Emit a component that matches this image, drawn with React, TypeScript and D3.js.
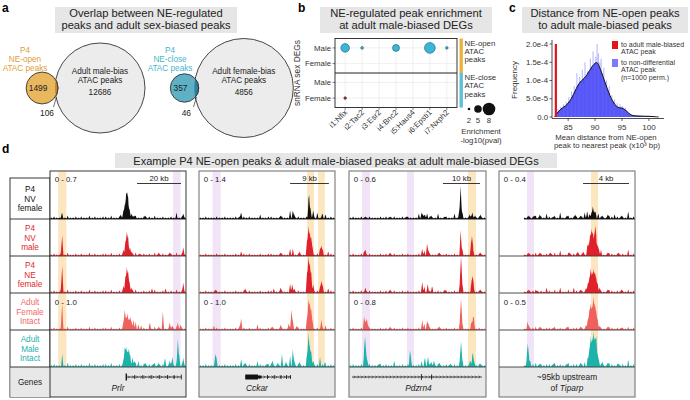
import React from "react";
import * as d3 from "d3";

const FONT = "'Liberation Sans', Arial, Helvetica, sans-serif";

// ---------------- Panel a data ----------------
const vennSmallCounts = [1499, 357];
const vennOverlapCounts = [106, 46];
const vennBigCounts = [12686, 4856];
const vennSmallLabels = [["P4", "NE-open", "ATAC peaks"], ["P4", "NE-close", "ATAC peaks"]];
const vennBigLabels = [["Adult male-bias", "ATAC peaks"], ["Adult female-bias", "ATAC peaks"]];

// ---------------- Panel b data ----------------
const enrichGenes = ["i1:Nfix", "i2:Tac2", "i3:Esr2", "i4:Bnc2", "i5:Haus4", "i6:Epsti1", "i7:Nxph2"];
const enrichRows = ["Male", "Female"];
const enrichFacets = [["NE-open", "ATAC", "peaks"], ["NE-close", "ATAC", "peaks"]];
const enrichFacetIdx = [0, 0, 0, 0, 0, 1];
const enrichPointGene = ["i1:Nfix", "i2:Tac2", "i4:Bnc2", "i6:Epsti1", "i7:Nxph2", "i1:Nfix"];
const enrichPointRow = ["Male", "Male", "Male", "Male", "Male", "Female"];
const enrichPointVal = [5.6, 2.1, 4.6, 6.9, 2.0, 2.0];
const enrichLegendVals = [2, 5, 8];

// ---------------- Panel c data ----------------
const histStart = 82.5;
const histWidth = 0.25;
const histValues = [
  8, 15, 22, 12, 28, 20, 35, 24, 42, 30, 55, 38, 70, 48, 85, 62, 120, 75, 110, 95,
  130, 90, 150, 105, 125, 115, 160, 128, 180, 140, 165, 200, 175, 150, 160, 120, 135, 95, 100, 75,
  85, 55, 60, 42, 48, 30, 38, 22, 35, 28, 30, 18, 25, 12, 15, 8, 6, 4, 3, 2, 2, 1,
]; // x1e-6
const densX = [82.5, 83, 83.5, 84, 84.5, 85, 85.5, 86, 86.5, 87, 87.5, 88, 88.5, 89, 89.5, 90, 90.3, 90.6, 91, 91.5, 92, 92.5, 93, 93.5, 94, 94.5, 95, 95.5, 96, 96.5, 97, 97.5, 98, 99, 100, 101, 101.8];
const densY = [0, 12, 20, 26, 30, 38, 48, 62, 78, 92, 100, 106, 116, 128, 140, 148, 150, 146, 130, 110, 88, 68, 50, 38, 28, 25, 25, 21, 14, 7, 4, 3, 3, 2, 2, 1, 0]; // x1e-6
const observedDist = 82.7;
const observedFreq = 2.0e-4;
const cTicksX = [85, 90, 95, 100];
const cTicksY = [0, 5e-5, 1e-4, 1.5e-4, 2e-4];
const cTickLabelsY = ["0.0", "5.0e-5", "1.0e-4", "1.5e-4", "2.0e-4"];

// ---------------- Panel d data ----------------
const trackLabels = [["P4", "NV", "female"], ["P4", "NV", "male"], ["P4", "NE", "female"], ["Adult", "Female", "Intact"], ["Adult", "Male", "Intact"]];
const trackLabelColors = ["#111111", "#e0282c", "#e0282c", "#f06a68", "#25b1ae"];
const trackColors = ["#111111", "#e0202a", "#e0202a", "#f0605c", "#1cb3ab"];
const trackNoiseLevel = [1, 1, 1, 1, 1.3];
const geneNames = ["Prlr", "Cckar", "Pdzrn4", "Tiparp"];
const rangeLabelsTop = ["0 - 0.7", "0 - 1.4", "0 - 0.6", "0 - 0.4"];
const rangeLabelsAdult = ["0 - 1.0", "0 - 1.0", "0 - 0.8", "0 - 0.5"];
const scaleBarText = ["20 kb", "9 kb", "10 kb", "4 kb"];
const scaleBarSpan = [[64, 96.3], [67, 95.5], [68.6, 95.6], [61.8, 95.6]];
const dataStart = [0, 0, 0, 18.4];
const highlightsYellow = [[[6, 12]], [[79.5, 84.5], [87.5, 92.5]], [[86.9, 92.7]], [[67.6, 72.8]]];
const highlightsPurple = [[[90.5, 96]], [[10, 16]], [[9.5, 15.3], [42.3, 47.4]], [[20.6, 25.7]]];

const noiseP1 = [1, 2, 1, 1, 2, 1, 3, 1, 1, 2, 1, 2, 1, 1, 3, 1, 2, 1, 1, 2, 2, 1, 3, 1, 1, 2, 1, 2, 1, 1, 2, 3, 1, 1, 2, 1, 2, 1, 3, 1, 1, 2, 1, 1, 2, 1, 3, 1, 2, 1];
const noiseP2 = [1, 1, 2, 1, 1, 1, 2, 1, 1, 2, 1, 1, 1, 2, 1, 1, 2, 1, 2, 1, 1, 1, 2, 1, 1, 2, 2, 1, 1, 1, 2, 1, 1, 2, 1, 1, 2, 1, 1, 2, 1, 1, 1, 2, 1, 2, 1, 1, 2, 1];
const noiseP3 = [1, 2, 1, 1, 2, 1, 1, 2, 1, 1, 1, 2, 1, 2, 1, 1, 2, 1, 1, 2, 1, 2, 1, 1, 1, 2, 1, 2, 1, 2, 1, 1, 2, 1, 1, 2, 1, 1, 2, 1, 1, 2, 1, 1, 2, 1, 1, 2, 1, 1];
const noiseP4 = [0, 0, 0, 0, 0, 0, 0, 0, 0, 1, 2, 1, 2, 3, 1, 2, 1, 2, 2, 1, 3, 1, 2, 1, 1, 3, 1, 2, 2, 1, 2, 1, 3, 1, 2, 2, 1, 2, 1, 1, 3, 2, 1, 2, 1, 2, 1, 3, 1, 2];
const panelNoise = [noiseP1, noiseP2, noiseP3, noiseP4];

// peaks: [position (0-100 of window), height (track units 0-37)]
const peaksPrlr = [
  [[8.5, 3], [9, 2], [52, 4], [54, 8], [55, 12], [56, 24], [56.8, 20], [57.5, 16], [58.5, 9], [60, 5], [62, 3], [70, 3], [93, 3], [98, 5]],
  [[8.3, 5], [9, 17], [54, 6], [55.5, 14], [56.5, 24], [57.5, 18], [58.8, 8], [60, 4], [66, 2], [80, 3], [88, 3], [98, 8]],
  [[8.3, 6], [9, 23], [54, 7], [55.5, 16], [56.5, 25], [57.5, 20], [58.5, 10], [60, 5], [75, 3], [85, 3], [98, 10]],
  [[8.5, 6], [9, 21], [54, 8], [55, 18], [56, 12], [57, 15], [58, 10], [59, 12], [60, 8], [61.5, 9], [63, 5], [65, 4], [67, 3], [73.5, 6], [80, 3], [83, 16], [88, 7], [90, 4], [94, 7], [96, 5]],
  [[9, 10], [54, 7], [55, 17], [56, 20], [57, 14], [58, 18], [59, 10], [60.5, 8], [62, 6], [65, 4], [70, 4], [76, 3], [80, 4], [84.5, 8], [88, 6], [90, 10], [94, 28], [95, 10], [98, 9]],
];
const peaksCckar = [
  [[30, 2], [31, 5], [45, 2], [60, 3], [67, 6], [69, 7], [70, 4], [80.5, 12], [81, 17], [82, 10], [84, 8], [87, 4], [90.5, 4], [93, 3]],
  [[31, 3], [60, 3], [67, 5], [69, 6], [74, 4], [79.5, 15], [80.5, 29], [81.5, 22], [82.5, 18], [83.5, 8], [89, 6], [90, 10], [91, 4], [95, 3]],
  [[12, 3], [34, 4], [55, 3], [60, 5], [67, 7], [68.5, 8], [70, 4], [79.5, 20], [80.5, 36], [81.5, 28], [82.5, 20], [84, 8], [89, 5], [90, 12], [91, 5], [95, 3]],
  [[11, 3], [30, 4], [31, 10], [43, 4], [54, 3], [60, 5], [66, 6], [68, 20], [69, 8], [72, 4], [79.5, 12], [80.5, 30], [81.5, 26], [82.5, 20], [83.5, 8], [90, 10], [93, 3]],
  [[12, 12], [12.8, 6], [31, 6], [34, 4], [43, 4], [50, 3], [54, 6], [58, 4], [61, 10], [64, 5], [67, 8], [69, 16], [70, 6], [74, 5], [79.5, 12], [80.5, 33], [81.5, 20], [82.5, 15], [84, 6], [89, 8], [92.6, 4]],
];
const peaksPdzrn4 = [
  [[12, 2], [30, 2], [42, 2], [51, 3], [53, 5], [54, 4], [55.5, 3], [57, 4], [60, 3], [65, 3], [70, 2], [77, 3], [80.5, 8], [81.5, 32], [82.5, 6], [88, 4], [90, 6], [92, 3], [96, 4]],
  [[11, 3], [12, 6], [30, 3], [53.5, 6], [55, 3], [57, 11], [58, 5], [66, 3], [81.5, 25], [82.5, 6], [89, 8], [89.8, 18], [90.5, 6], [96, 3]],
  [[12, 5], [30, 3], [53.5, 10], [55, 4], [57.5, 8], [60.6, 6], [70, 3], [81, 10], [81.8, 36], [82.6, 8], [89.5, 10], [90.3, 15], [91, 5], [96, 3]],
  [[11, 12], [12, 8], [13, 10], [14, 4], [30, 3], [53.5, 9], [55, 4], [57, 8], [58, 6], [66, 3], [81, 8], [81.8, 30], [82.5, 6], [89.5, 7], [90.5, 10], [91.2, 9]],
  [[11, 10], [11.7, 28], [12.5, 12], [13.5, 5], [22, 3], [33, 3], [44.5, 15], [45.3, 6], [53, 4], [55.5, 8], [57.7, 10], [60, 5], [62, 6], [66, 4], [74, 3], [81, 6], [81.8, 25], [82.6, 5], [88.3, 6], [90, 7], [90.5, 10], [91.5, 4], [96, 3]],
];
const peaksTiparp = [
  [[22, 3], [26, 3], [30, 4], [35, 3], [40, 2], [45, 4], [50, 3], [56, 4], [60, 3], [63, 5], [64.7, 5], [66.5, 4], [68, 6], [69, 10], [70, 7], [71, 5], [73, 4], [76, 3], [80, 4], [85, 3], [90, 3], [95, 4]],
  [[22, 3], [30, 3], [38, 3], [45, 3], [52, 3], [58, 4], [62, 4], [65, 8], [66, 12], [67, 20], [68, 27], [69, 22], [70, 18], [70.8, 24], [71.5, 15], [72.5, 10], [73.5, 6], [75, 4], [80, 3], [88, 3], [95, 3]],
  [[22, 3], [28, 2], [35, 3], [45, 3], [55, 3], [60, 3], [64, 5], [65.5, 9], [66.5, 15], [67.5, 24], [68.5, 18], [69.5, 23], [70.5, 20], [71.5, 14], [72.5, 9], [74, 5], [80, 3], [90, 3]],
  [[21, 6], [22, 4], [30, 3], [40, 2], [50, 3], [60, 3], [64, 5], [65.5, 10], [66.5, 20], [67.5, 26], [68.5, 22], [69.5, 32], [70.5, 25], [71.5, 18], [72.5, 10], [74, 4], [80, 3], [90, 2]],
  [[20.6, 10], [21.3, 18], [22, 8], [23, 4], [30, 3], [40, 3], [50, 3], [60, 4], [63, 3], [65.5, 8], [66.5, 18], [67.5, 30], [68.5, 26], [69.5, 34], [70.5, 28], [71.5, 30], [72.5, 12], [73.5, 6], [76, 5], [80, 4], [88, 3], [95, 3]],
];
const panelPeaks = [peaksPrlr, peaksCckar, peaksPdzrn4, peaksTiparp];

// gene models: [line start, line end], exons [start, end, height]
const geneLines = [[56, 96.8], [34, 67.6], [2.2, 97], null];
const geneExons = [
  [[55.6, 56.6, 7], [62, 62.6, 4], [68, 68.6, 4], [74, 74.6, 4], [80, 80.6, 4], [86, 86.6, 4], [91, 91.6, 4], [96.2, 96.8, 5]],
  [[34, 43.4, 5], [43.4, 46, 3], [50, 50.6, 4], [55, 55.6, 4], [60, 60.6, 4], [64, 64.6, 4], [67, 67.6, 4]],
  [[52.5, 53, 6], [60, 60.5, 5]],
  [],
];

// ---------------- layout ----------------
const dLefts = [50, 199, 349, 499];
const dRights = [186, 335, 486, 635];
const dTop = 171;
const rowBottoms = [219, 256, 293, 330, 367];
const genesBottom = 397;

function TitleBox({ x0, x1, y0, y1, lines, size = 11.2 }: any) {
  const cx = (x0 + x1) / 2;
  return (
    <g>
      <rect x={x0} y={y0} width={x1 - x0} height={y1 - y0} fill="#e6e6e6" />
      {lines.map((l: string, i: number) => (
        <text key={i} x={cx} y={y0 + 10 + i * 12.2} textAnchor="middle" fontSize={size} fill="#222">{l}</text>
      ))}
    </g>
  );
}

function PanelA() {
  const bigCx = [100, 243.8];
  const bigR = [45, 49.5];
  const cy = 88;
  const depth = [3, 4.4];
  const smallFill = ["#e9b75d", "#5eb1c4"];
  const lensFill = ["#c48a28", "#2f7f9a"];
  const labColor = ["#dda03a", "#47b4cd"];
  const labCx = [25, 170];
  return (
    <g>
      <text x={2} y={12} fontSize={12} fontWeight="bold">a</text>
      <TitleBox x0={55} x1={237} y0={7} y1={33} lines={["Overlap between NE-regulated", "peaks and adult sex-biased peaks"]} />
      {vennBigCounts.map((big, i) => {
        const rs = d3.scaleSqrt().domain([0, big + vennOverlapCounts[i]]).range([0, bigR[i]]);
        const r = rs(vennSmallCounts[i] + vennOverlapCounts[i]);
        const scx = bigCx[i] - bigR[i] - r + depth[i];
        const clipId = `venn-clip-${i}`;
        return (
          <g key={i}>
            <defs>
              <clipPath id={clipId}><circle cx={bigCx[i]} cy={cy} r={bigR[i]} /></clipPath>
            </defs>
            <circle cx={bigCx[i]} cy={cy} r={bigR[i]} fill="#ececec" stroke="#333" strokeWidth={0.9} />
            <circle cx={scx} cy={cy} r={r} fill={smallFill[i]} stroke="#333" strokeWidth={0.9} />
            <circle cx={scx} cy={cy} r={r} fill={lensFill[i]} stroke="#333" strokeWidth={0.9} clipPath={`url(#${clipId})`} />
            <text x={scx - 4} y={cy + 3} textAnchor="middle" fontSize={8.4} fill="#222">{vennSmallCounts[i]}</text>
            <line x1={scx + r - depth[i] / 2 - 3} y1={cy + 19} x2={scx + r - depth[i] / 2} y2={cy + 9} stroke="#333" strokeWidth={0.7} />
            <text x={scx + r - depth[i] - 8} y={cy + 28} textAnchor="middle" fontSize={8.4} fill="#222">{vennOverlapCounts[i]}</text>
            {vennSmallLabels[i].map((l, j) => (
              <text key={j} x={labCx[i]} y={53 + j * 9.2} textAnchor="middle" fontSize={8.2} fill={labColor[i]}>{l}</text>
            ))}
            {vennBigLabels[i].map((l, j) => (
              <text key={j} x={bigCx[i]} y={74 + j * 9} textAnchor="middle" fontSize={8.2} fill="#222">{l}</text>
            ))}
            <text x={bigCx[i]} y={94.5} textAnchor="middle" fontSize={8.2} fill="#222">{big}</text>
          </g>
        );
      })}
    </g>
  );
}

function PanelB() {
  const x = d3.scalePoint().domain(enrichGenes).range([335, 457]).padding(0.6);
  const facetTops = [38.5, 73];
  const facetBottoms = [73, 107.5];
  const ys = facetTops.map((t, i) => d3.scalePoint().domain(enrichRows).range([t, facetBottoms[i]]).padding(0.6));
  const r = d3.scaleLinear().domain([2, 8]).range([1.3, 6.3]);
  const stripColors = ["#e9b43e", "#5ebfd8"];
  return (
    <g>
      <text x={298} y={12} fontSize={12} fontWeight="bold">b</text>
      <TitleBox x0={320} x1={492} y0={7} y1={33} lines={["NE-regulated peak enrichment", "at adult male-biased DEGs"]} />
      {facetTops.map((t, fi) => (
        <g key={fi}>
          <rect x={335} y={t} width={122} height={facetBottoms[fi] - t} fill="white" />
          {enrichGenes.map((g) => (
            <line key={g} x1={x(g)} x2={x(g)} y1={t} y2={facetBottoms[fi]} stroke="#e6e6e6" strokeWidth={0.6} />
          ))}
          {enrichRows.map((rw) => (
            <g key={rw}>
              <line x1={335} x2={457} y1={ys[fi](rw)} y2={ys[fi](rw)} stroke="#e6e6e6" strokeWidth={0.6} />
              <line x1={332.5} x2={335} y1={ys[fi](rw)} y2={ys[fi](rw)} stroke="#333" strokeWidth={0.6} />
              <text x={331} y={ys[fi](rw)! + 2.8} textAnchor="end" fontSize={7.8} fill="#333">{rw}</text>
            </g>
          ))}
          <rect x={459.5} y={t} width={3.4} height={facetBottoms[fi] - t} fill={stripColors[fi]} />
          {enrichFacets[fi].map((l, j) => (
            <text key={j} x={464.5} y={t + 7 + j * 8.4} fontSize={7.8} fill="#333">{l}</text>
          ))}
        </g>
      ))}
      <rect x={335} y={38.5} width={122} height={69} fill="none" stroke="#222" strokeWidth={0.9} />
      <line x1={335} x2={457} y1={73} y2={73} stroke="#222" strokeWidth={1.1} />
      {enrichPointVal.map((v, i) => {
        const fi = enrichFacetIdx[i];
        const female = enrichPointRow[i] === "Female" && fi === 1;
        return (
          <circle key={i} cx={x(enrichPointGene[i])} cy={ys[fi](enrichPointRow[i])} r={r(v)}
            fill={female ? "#a3322f" : "#3cb6d8"} stroke={female ? "#5a1a18" : "#1f5d70"} strokeWidth={0.6} />
        );
      })}
      {enrichGenes.map((g) => (
        <g key={g}>
          <line x1={x(g)} x2={x(g)} y1={107.5} y2={110} stroke="#333" strokeWidth={0.6} />
          <text transform={`translate(${x(g)! + 2.5},${113}) rotate(-45)`} textAnchor="end" fontSize={7.8} fill="#333">{g}</text>
        </g>
      ))}
      <text transform="translate(300,73) rotate(-90)" textAnchor="middle" fontSize={8.4} fill="#333">snRNA sex DEGs</text>
      {enrichLegendVals.map((v, i) => {
        const lx = [469, 478, 489][i];
        return (
          <g key={v}>
            <circle cx={lx} cy={109} r={r(v)} fill="#111" />
            <text x={lx} y={123} textAnchor="middle" fontSize={7.8} fill="#333">{v}</text>
          </g>
        );
      })}
      <text x={481} y={134} textAnchor="middle" fontSize={7.8} fill="#333">Enrichment</text>
      <text x={481} y={143} textAnchor="middle" fontSize={7.8} fill="#333">-log10(pval)</text>
    </g>
  );
}

function PanelC() {
  const x = d3.scaleLinear().domain([82, 102.8]).range([552, 664]);
  const y = d3.scaleLinear().domain([0, 2e-4]).range([117, 44]);
  const area = d3.area<number>().x((_, i) => x(densX[i])).y0(y(0)).y1((d) => y(d * 1e-6)).curve(d3.curveBasis);
  const line = d3.line<number>().x((_, i) => x(densX[i])).y((d) => y(d * 1e-6)).curve(d3.curveBasis);
  return (
    <g>
      <text x={509} y={12} fontSize={12} fontWeight="bold">c</text>
      <TitleBox x0={522} x1={688} y0={7} y1={33} lines={["Distance from NE-open peaks", "to adult male-biased peaks"]} />
      <path d={area(densY) || ""} fill="#3a3af2" opacity={0.9} />
      {histValues.map((v, i) => {
        const x0 = histStart + i * histWidth;
        return (
          <rect key={i} x={x(x0) + 0.15} width={x(x0 + histWidth) - x(x0) - 0.3} y={y(v * 1e-6)} height={y(0) - y(v * 1e-6)} fill="#6f6fff" opacity={0.5} />
        );
      })}
      <path d={line(densY) || ""} fill="none" stroke="#111" strokeWidth={1} />
      <rect x={x(observedDist) - 1} width={2.2} y={y(observedFreq)} height={y(0) - y(observedFreq)} fill="#e3141c" />
      <line x1={552} x2={552} y1={40} y2={118.5} stroke="#222" strokeWidth={0.8} />
      <line x1={552} x2={664} y1={118.5} y2={118.5} stroke="#222" strokeWidth={0.8} />
      {cTicksY.map((t, i) => (
        <g key={t}>
          <line x1={549.5} x2={552} y1={y(t)} y2={y(t)} stroke="#222" strokeWidth={0.7} />
          <text x={548} y={y(t) + 2.7} textAnchor="end" fontSize={7.8} fill="#333">{cTickLabelsY[i]}</text>
        </g>
      ))}
      {cTicksX.map((t) => (
        <g key={t}>
          <line x1={x(t)} x2={x(t)} y1={118.5} y2={121} stroke="#222" strokeWidth={0.7} />
          <text x={x(t)} y={129.5} textAnchor="middle" fontSize={8} fill="#333">{t}</text>
        </g>
      ))}
      <text transform="translate(517,80) rotate(-90)" textAnchor="middle" fontSize={8} fill="#333">Frequency</text>
      <text x={606} y={139.5} textAnchor="middle" fontSize={7.8} fill="#333">Mean distance from NE-open</text>
      <text x={607} y={148} textAnchor="middle" fontSize={7.8} fill="#333">peak to nearest peak (x10³ bp)</text>
      <rect x={612} y={41} width={6} height={8} fill="#e3141c" />
      <text x={621} y={46.5} fontSize={7} fill="#333">to adult male-biased</text>
      <text x={621} y={54} fontSize={7} fill="#333">ATAC peak</text>
      <rect x={612} y={59} width={6} height={8} fill="#7b7bff" />
      <text x={621} y={64.5} fontSize={7} fill="#333">to non-differential</text>
      <text x={621} y={72} fontSize={7} fill="#333">ATAC peak</text>
      <text x={621} y={79.5} fontSize={7} fill="#333">(n=1000 perm.)</text>
    </g>
  );
}

function signal(peaks: number[][], noise: number[], level: number, start: number) {
  const pts: [number, number][] = [];
  for (let k = 0; k <= 400; k++) {
    const u = k * 0.25;
    let v = 0;
    for (const [p, h] of peaks) {
      const d = Math.abs(u - p);
      if (d < 0.9) v += h * (1 - d / 0.9);
    }
    noise.forEach((n, i) => {
      const d = Math.abs(u - (i * 2 + 1));
      if (d < 0.7) v += n * level * (1 - d / 0.7);
    });
    pts.push([u, u < start ? 0 : v + 0.6]);
  }
  return pts;
}

function PanelD() {
  return (
    <g>
      <text x={2} y={153} fontSize={12} fontWeight="bold">d</text>
      <rect x={115} y={153} width={442} height={15} fill="#e6e6e6" />
      <text x={336} y={164.5} textAnchor="middle" fontSize={11} fill="#222">Example P4 NE-open peaks &amp; adult male-biased peaks at adult male-biased DEGs</text>
      <rect x={10} y={178} width={40} height={genesBottom - 178} fill="white" stroke="#222" strokeWidth={0.9} />
      <rect x={10.5} y={367} width={39.5} height={genesBottom - 367} fill="#e8e8e8" />
      {trackLabels.map((lines, i) => {
        const top = i === 0 ? 178 : rowBottoms[i - 1];
        const mid = (top + rowBottoms[i]) / 2;
        return (
          <g key={i}>
            {lines.map((l, j) => (
              <text key={j} x={30} y={mid + 3 + (j - 1) * 9.4} textAnchor="middle" fontSize={8.2} fill={trackLabelColors[i]}>{l}</text>
            ))}
            <line x1={10} x2={50} y1={rowBottoms[i]} y2={rowBottoms[i]} stroke="#222" strokeWidth={0.9} />
          </g>
        );
      })}
      <text x={30} y={385} textAnchor="middle" fontSize={8.2} fill="#222">Genes</text>
      {dLefts.map((L, pi) => {
        const R = dRights[pi];
        const x = d3.scaleLinear().domain([0, 100]).range([L, R]);
        const noise = panelNoise[pi];
        return (
          <g key={pi}>
            <rect x={L} y={dTop} width={R - L} height={genesBottom - dTop} fill="white" />
            {highlightsYellow[pi].map(([a, b], k) => (
              <rect key={"y" + k} x={x(a)} width={x(b) - x(a)} y={dTop + 0.5} height={367 - dTop} fill="#fbe6bf" />
            ))}
            {highlightsPurple[pi].map(([a, b], k) => (
              <rect key={"p" + k} x={x(a)} width={x(b) - x(a)} y={dTop + 0.5} height={367 - dTop} fill="#f1e4f6" />
            ))}
            <rect x={L} y={367} width={R - L} height={genesBottom - 367} fill="#e8e8e8" />
            {panelPeaks[pi].map((peaks, ti) => {
              const base = rowBottoms[ti];
              const y = d3.scaleLinear().domain([0, 37]).range([base, base - 37]).clamp(true);
              const pts = signal(peaks, noise, trackNoiseLevel[ti], dataStart[pi]);
              const area = d3.area<[number, number]>().x((d) => x(d[0])).y0(base).y1((d) => y(d[1]));
              const sepStart = ti === 0 ? x(dataStart[pi]) : L;
              return (
                <g key={ti}>
                  <path d={area(pts) || ""} fill={trackColors[ti]} />
                  <line x1={sepStart} x2={R} y1={base} y2={base} stroke={ti === 0 ? "#111" : "#3a3a3a"} strokeWidth={0.9} />
                </g>
              );
            })}
            <text x={x(3.5)} y={182} fontSize={7.8} fill="#222">{rangeLabelsTop[pi]}</text>
            <text x={x(3.5)} y={rowBottoms[2] + 12} fontSize={7.8} fill="#222">{rangeLabelsAdult[pi]}</text>
            <line x1={x(scaleBarSpan[pi][0])} x2={x(scaleBarSpan[pi][1])} y1={183.5} y2={183.5} stroke="#222" strokeWidth={0.9} />
            <text x={x((scaleBarSpan[pi][0] + scaleBarSpan[pi][1]) / 2)} y={181} textAnchor="middle" fontSize={7.8} fill="#222">{scaleBarText[pi]}</text>
            {geneLines[pi] && (
              <g>
                <line x1={x(geneLines[pi]![0])} x2={x(geneLines[pi]![1])} y1={377} y2={377} stroke="#111" strokeWidth={0.8} />
                {d3.range(geneLines[pi]![0] + 2, geneLines[pi]![1] - 1, pi === 2 ? 2.6 : 3).map((c, k) => (
                  <path key={k} d={`M${x(c) - 0.8},${375.6} L${x(c) + 0.6},${377} L${x(c) - 0.8},${378.4}`} fill="none" stroke="#111" strokeWidth={0.5} />
                ))}
                {geneExons[pi].map(([a, b, h], k) => (
                  <rect key={k} x={x(a)} width={Math.max(0.8, x(b) - x(a))} y={377 - h / 2} height={h} fill="#111" />
                ))}
              </g>
            )}
            {pi < 3 ? (
              <text x={x([50, 42.6, 50.7][pi])} y={391} textAnchor="middle" fontSize={8.4} fontStyle="italic" fill="#222">{geneNames[pi]}</text>
            ) : (
              <g>
                <text x={x(50)} y={380} textAnchor="middle" fontSize={8.4} fill="#222">~95kb upstream</text>
                <text x={x(50)} y={390.5} textAnchor="middle" fontSize={8.4} fill="#222">of <tspan fontStyle="italic">{geneNames[pi]}</tspan></text>
              </g>
            )}
            <rect x={L} y={dTop} width={R - L} height={genesBottom - dTop} fill="none" stroke={pi === 0 ? "#222" : "#777"} strokeWidth={pi === 0 ? 0.9 : 1.1} />
          </g>
        );
      })}
    </g>
  );
}

export default function App() {
  return (
    <svg width={690} height={400} viewBox="0 0 690 400" fontFamily={FONT}
      style={{ position: "absolute", left: 0, top: 0, display: "block", background: "white" }}>
      <rect width={690} height={400} fill="white" />
      <PanelA />
      <PanelB />
      <PanelC />
      <PanelD />
    </svg>
  );
}
